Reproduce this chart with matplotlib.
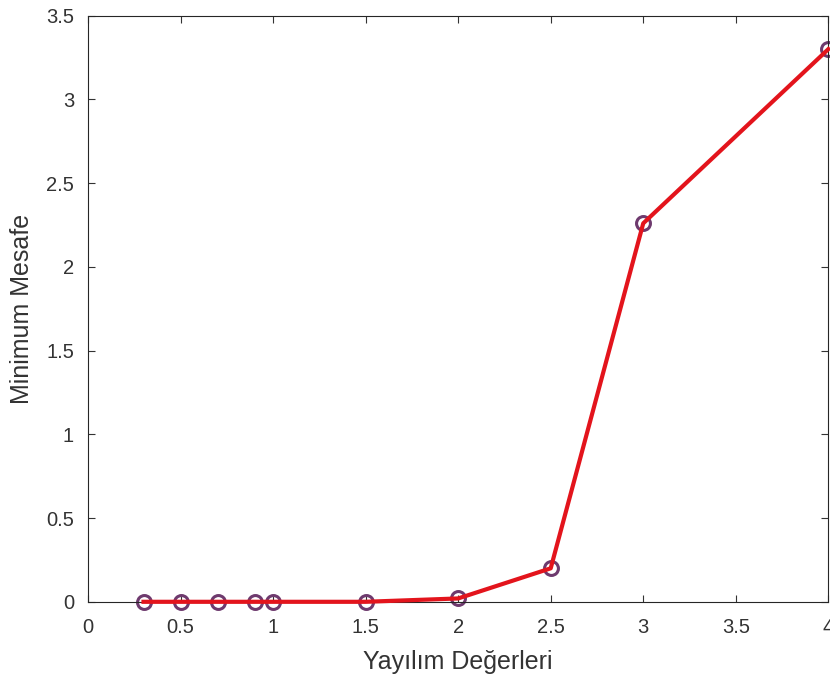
import matplotlib
matplotlib.use('Agg')
import matplotlib.pyplot as plt

# spread values and minimum distance
yayilim = [0.3, 0.5, 0.7, 0.9, 1.0, 1.5, 2.0, 2.5, 3.0, 4.0]
min_mesafe = [0.0, 0.0, 0.0, 0.0, 0.0, 0.0, 0.02, 0.2, 2.26, 3.3]

x_ticks = [0, 0.5, 1, 1.5, 2, 2.5, 3, 3.5, 4]
x_ticklabels = ['0', '0.5', '1', '1.5', '2', '2.5', '3', '3.5', '4']
y_ticks = [0, 0.5, 1, 1.5, 2, 2.5, 3, 3.5]
y_ticklabels = ['0', '0.5', '1', '1.5', '2', '2.5', '3', '3.5']

plt.rcParams['font.family'] = ['Liberation Sans', 'DejaVu Sans']

fig = plt.figure(figsize=(8.3, 6.8), dpi=100)
ax = fig.add_axes([0.106, 0.115, 0.892, 0.862])

ax.plot(yayilim, min_mesafe, 'o', markersize=10, markerfacecolor='none',
        markeredgecolor='#6e3a6e', markeredgewidth=2.2, zorder=2, clip_on=False)
ax.plot(yayilim, min_mesafe, '-', color='#e3141c', linewidth=3, zorder=3,
        clip_on=False)

ax.set_xlim(0, 4)
ax.set_ylim(0, 3.5)
ax.set_xticks(x_ticks)
ax.set_xticklabels(x_ticklabels)
ax.set_yticks(y_ticks)
ax.set_yticklabels(y_ticklabels)
ax.tick_params(direction='in', top=True, right=True, length=5, width=0.8,
               labelsize=14.5, colors='#333333')
ax.tick_params(axis='x', pad=12)
ax.tick_params(axis='y', pad=10)
for s in ax.spines.values():
    s.set_color('#262626')
    s.set_linewidth(0.8)

ax.set_xlabel('Yayılım Değerleri', fontsize=18, color='#333333', labelpad=9)
ax.set_ylabel('Minimum Mesafe', fontsize=18, color='#333333', labelpad=9)

fig.savefig('out.png', dpi=100)
